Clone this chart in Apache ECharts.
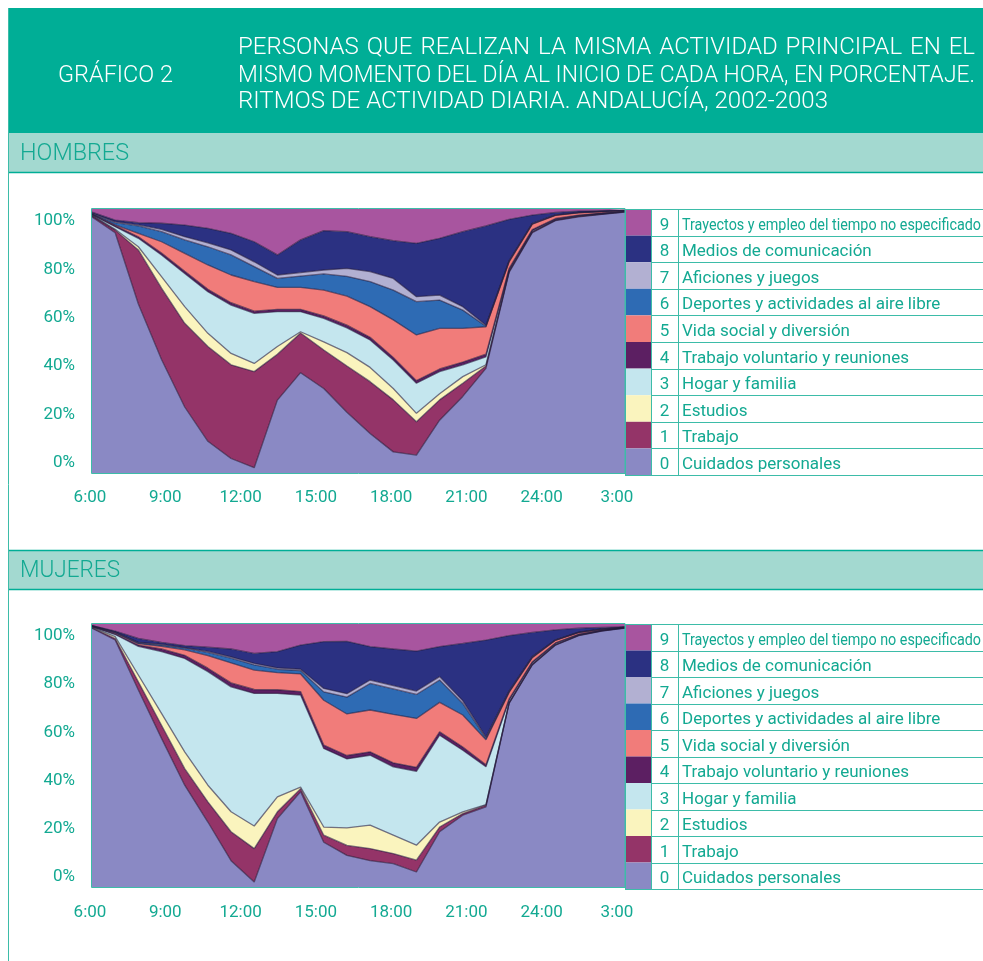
<!DOCTYPE html>
<html><head><meta charset="utf-8">
<script src="https://cdn.jsdelivr.net/npm/echarts@6/dist/echarts.min.js"></script>
<style>html,body{margin:0;padding:0;background:#fff}#c{width:983px;height:961px}</style>
</head><body><div id="c"></div>
<script>
// ---------- DATA ----------
const hours = ['6:00','7:00','8:00','9:00','10:00','11:00','12:00','13:00','14:00','15:00','16:00','17:00','18:00','19:00','20:00','21:00','22:00','23:00','0:00','1:00','2:00','3:00','4:00','5:00'];
const tickLabels = ['6:00','9:00','12:00','15:00','18:00','21:00','24:00','3:00'];
const categories = ['Cuidados personales','Trabajo','Estudios','Hogar y familia','Trabajo voluntario y reuniones','Vida social y diversión','Deportes y actividades al aire libre','Aficiones y juegos','Medios de comunicación','Trayectos y empleo del tiempo no especificado'];
const codes = ['0','1','2','3','4','5','6','7','8','9'];

// HOMBRES (% per hour)
const hCuidados   = [97, 91, 64, 43, 25, 12, 5.5, 2, 27.6, 38, 32, 23, 15, 8, 6.8, 20, 29, 39.6, 76, 91, 95.6, 97, 98, 98.8];
const hTrabajo    = [0.4, 1, 20.5, 27, 31.7, 35.9, 35.5, 36.4, 17.4, 15, 14.6, 17.5, 19.6, 19.7, 12.6, 7.7, 5, 0.9, 0.4, 0.3, 0.2, 0.2, 0.1, 0.1];
const hEstudios   = [0.2, 0.3, 1.2, 4.4, 6.3, 5, 4.3, 3.1, 2.9, 0.5, 3.1, 5.1, 5.4, 4.3, 3.2, 2.3, 2.5, 0.5, 0.1, 0.1, 0.1, 0.1, 0.1, 0.1];
const hHogar      = [0.2, 1, 3.2, 8.2, 12.6, 15.8, 18.3, 19, 13.2, 7.6, 8.9, 9.4, 10.4, 10.8, 11.4, 8.4, 4.5, 3, 0.5, 0.4, 0.2, 0.2, 0.1, 0.1];
const hVoluntario = [0.2, 0.4, 0.6, 0.7, 0.8, 0.9, 0.9, 0.8, 0.9, 0.9, 0.9, 1, 1, 1, 1, 1, 1, 1, 0.5, 0.4, 0.3, 0.2, 0.1, 0.1];
const hVidaSocial = [0.1, 0.3, 1.3, 4.3, 6.8, 9.2, 10.5, 11.2, 8.3, 8.3, 9.8, 11, 11.6, 14.2, 17.3, 15.4, 12.8, 10.4, 2.5, 2.1, 1.2, 0.8, 0.6, 0.2];
const hDeportes   = [0.1, 0.8, 2.8, 3.8, 5.1, 6.9, 7.6, 5.7, 3.4, 4.3, 6.1, 7.5, 9.5, 11.3, 12.6, 10.7, 6.9, 0.2, 0.2, 0.1, 0.1, 0.1, 0.05, 0.05];
const hAficiones  = [0.2, 0.4, 0.4, 0.9, 1.2, 1.5, 1.9, 1.8, 1.3, 1.3, 1.5, 3, 3.8, 4.4, 1.9, 1.9, 1.3, 0.4, 0.3, 0.2, 0.1, 0.1, 0.05, 0.05];
const hMedios     = [0.4, 0.6, 0.8, 2.3, 4.4, 5.5, 6.3, 7.6, 7.6, 12.4, 14.9, 13.9, 13.2, 14.3, 20.2, 21.5, 28.4, 37.6, 15.6, 3.1, 0.9, 0.5, 0.3, 0.1];
const hTrayectos  = [1.2, 4.2, 5.2, 5.4, 6.1, 7.3, 9.2, 12.4, 17.4, 11.7, 8.2, 8.6, 10.5, 12, 13, 11.1, 8.6, 6.4, 3.9, 2.3, 1.3, 0.8, 0.6, 0.4];

// MUJERES (% per hour)
const mCuidados   = [98.4, 93.9, 74.9, 56.5, 38.7, 24.7, 10, 1.9, 26, 36.2, 17, 12, 10, 8.9, 5.7, 21, 27.3, 30.5, 69.8, 84.4, 92, 95.6, 97.3, 98.4];
const mTrabajo    = [0.2, 0.6, 3.1, 5, 6.3, 7.7, 11, 12.7, 2.6, 1.2, 2.7, 3.8, 4.6, 3.8, 4.5, 1.8, 0.6, 0.6, 0.2, 0.2, 0.1, 0.1, 0.1, 0.1];
const mEstudios   = [0.2, 0.7, 2.6, 4.5, 6.4, 6.3, 7.6, 8.6, 5.7, 0.6, 3.1, 6.7, 8.9, 7, 5.7, 1.9, 0.7, 0.2, 0.1, 0.1, 0.1, 0.1, 0.1, 0.05];
const mHogar      = [0.2, 0.8, 10.9, 23.5, 35.5, 43.2, 47.5, 50.4, 39.3, 35, 29.9, 26.2, 26.6, 26, 28.1, 33, 23.4, 14.4, 0.9, 0.6, 0.4, 0.2, 0.1, 0.05];
const mVoluntario = [0.1, 0.3, 0.5, 1, 1.2, 1.3, 1.5, 1.5, 1.4, 1.3, 1.3, 1.3, 1.3, 1.5, 1.5, 1.3, 1.2, 0.8, 0.5, 0.3, 0.2, 0.1, 0.1, 0.05];
const mVidaSocial = [0.1, 0.3, 0.5, 1, 2.1, 4.8, 7.6, 7.4, 6.5, 6.7, 17, 15.8, 15.9, 18.4, 18.6, 11.2, 12.2, 9.5, 2.5, 1.6, 1, 0.6, 0.3, 0.1];
const mDeportes   = [0.1, 0.2, 0.3, 0.5, 0.6, 1.2, 1.8, 2, 1.3, 1.3, 3.2, 6.4, 10.1, 9.7, 9.1, 8.5, 4.4, 0.5, 0.3, 0.2, 0.1, 0.1, 0.1, 0.05];
const mAficiones  = [0.05, 0.2, 0.2, 0.3, 0.2, 0.4, 0.5, 0.5, 0.5, 0.5, 1.3, 1.3, 1.3, 1.3, 1.3, 1.3, 1, 0.5, 0.3, 0.2, 0.1, 0.1, 0.05, 0.05];
const mMedios     = [0.05, 0.3, 1.5, 0.7, 0.8, 1.6, 3, 3.8, 6.2, 9.2, 17.8, 19.9, 12.7, 13.9, 15.2, 11.4, 21.8, 36.9, 21, 9.2, 3.8, 1.5, 0.55, 0.05];
const mTrayectos  = [0.6, 2.7, 5.5, 7, 8.2, 8.8, 9.5, 11.2, 10.5, 8, 6.7, 6.6, 8.6, 9.5, 10.3, 8.6, 7.4, 6.1, 4.4, 3.2, 2.2, 1.6, 1.3, 1.1];

// ---------- STYLE ----------
const colors = ['#8A89C4','#943468','#FAF4BE','#C4E6EE','#5C1F62','#F17C7A','#2E6BB4','#B2B0D2','#2B3182','#A8559F'];
const TEAL = '#00AE96', TEXT_TEAL = '#13A992', BAND = '#A3D9D0', LINE = '#3DBCA8';
const hombres = [hCuidados,hTrabajo,hEstudios,hHogar,hVoluntario,hVidaSocial,hDeportes,hAficiones,hMedios,hTrayectos];
const mujeres = [mCuidados,mTrabajo,mEstudios,mHogar,mVoluntario,mVidaSocial,mDeportes,mAficiones,mMedios,mTrayectos];

const panels = [
  {name:'HOMBRES', data:hombres, bandY:133, top:209, h:264, lblTop:221, lblH:242, xMargin:26},
  {name:'MUJERES', data:mujeres, bandY:550, top:624, h:263, lblTop:636, lblH:241, xMargin:27}
];
const PL = 92, PW = 533;
const FONT = 'Roboto';
const labelFont = 'Roboto, "Noto Sans", sans-serif';

const ctx = document.createElement('canvas').getContext('2d');
function tw(t, s, wgt){ ctx.font = (wgt||400)+' '+s+'px '+FONT; return ctx.measureText(t).width; }
function scaledText(text, x, y, size, sx, fill, wgt, z){
  return {type:'text', x:x, y:y, scaleX:sx, z:z||5,
    style:{text:text, x:0, y:0, verticalAlign:'middle', fill:fill, fontSize:size, fontFamily:FONT, fontWeight:wgt||400}};
}

const grid = [], xAxis = [], yAxis = [], series = [], graphic = [];

panels.forEach((p, pi) => {
  const gD = grid.length;
  grid.push({left:PL, top:p.top, width:PW, height:p.h});
  xAxis.push({type:'category', gridIndex:gD, data:hours, boundaryGap:false, show:false});
  yAxis.push({type:'value', gridIndex:gD, min:0, max:100, show:false});
  const gL = grid.length;
  grid.push({left:90, top:p.lblTop, width:527, height:p.lblH});
  xAxis.push({type:'category', gridIndex:gL, data:tickLabels, boundaryGap:false,
    axisLine:{show:false}, axisTick:{show:false}, splitLine:{show:false},
    axisLabel:{interval:0, margin:p.xMargin, color:TEXT_TEAL, fontSize:17, fontFamily:labelFont}});
  yAxis.push({type:'value', gridIndex:gL, min:0, max:100, interval:20,
    axisLine:{show:false}, axisTick:{show:false}, splitLine:{show:false},
    axisLabel:{formatter:'{value}%', margin:15, color:TEXT_TEAL, fontSize:17, fontFamily:labelFont}});
  p.data.forEach((arr, k) => {
    series.push({type:'line', name:categories[k], xAxisIndex:gD, yAxisIndex:gD, stack:'s'+pi,
      data:arr, symbol:'none', smooth:false, silent:true,
      lineStyle:{width:k===9?0:1.3, color:'rgba(35,25,60,0.6)'},
      areaStyle:{color:colors[k], opacity:1}, itemStyle:{color:colors[k]}});
  });

  // section band
  graphic.push({type:'rect', shape:{x:8, y:p.bandY, width:975, height:39}, style:{fill:BAND}, z:1});
  graphic.push({type:'line', shape:{x1:8, y1:p.bandY+39.5, x2:983, y2:p.bandY+39.5}, style:{stroke:TEAL, lineWidth:1.5}, z:2});
  if (pi===1) graphic.push({type:'line', shape:{x1:8, y1:p.bandY+0.5, x2:983, y2:p.bandY+0.5}, style:{stroke:TEAL, lineWidth:1.5}, z:2});
  const bw = tw(p.name, 23, 300);
  graphic.push(scaledText(p.name, 20, p.bandY+21, 23, (pi===0?109:100)/bw, TEXT_TEAL, 300, 3));

  // plot border
  graphic.push({type:'rect', shape:{x:91.5, y:p.top-0.5, width:PW+0.5, height:p.h+1}, style:{fill:'none', stroke:LINE, lineWidth:1}, z:50});

  // legend table
  const RH = (p.h+2)/10;
  for (let r=0; r<10; r++){
    const k = 9-r;
    const y0 = p.top + r*RH;
    graphic.push({type:'rect', shape:{x:626, y:y0, width:25.5, height:RH}, style:{fill:colors[k]}, z:10});
    graphic.push({type:'text', style:{text:codes[k], x:664.5, y:y0+RH/2+3, align:'center', verticalAlign:'middle', fill:TEXT_TEAL, fontSize:17, fontFamily:labelFont}, z:12});
    if (k === 9) {
      const w9 = tw(categories[k], 17);
      graphic.push(scaledText(categories[k], 682, y0+RH/2+3, 17, 299/w9, TEXT_TEAL, 400, 12));
    } else {
      graphic.push({type:'text', style:{text:categories[k], x:682, y:y0+RH/2+3, verticalAlign:'middle', fill:TEXT_TEAL, fontSize:17, fontFamily:labelFont}, z:12});
    }
  }
  for (let r=0; r<=10; r++){
    const y = Math.round(p.top + r*RH)+0.5;
    graphic.push({type:'line', shape:{x1:(r===0||r===10)?625:651, y1:y, x2:983, y2:y}, style:{stroke:LINE, lineWidth:1}, z:11});
  }
  [651.5, 678.5].forEach(x => graphic.push({type:'line', shape:{x1:x, y1:p.top, x2:x, y2:p.top+10*RH}, style:{stroke:LINE, lineWidth:1}, z:11}));
  graphic.push({type:'line', shape:{x1:625.5, y1:p.top, x2:625.5, y2:p.top+10*RH}, style:{stroke:LINE, lineWidth:1}, z:11});
});

// header
graphic.push({type:'rect', shape:{x:8, y:8, width:975, height:125}, style:{fill:TEAL}, z:1});
graphic.push({type:'line', shape:{x1:8.5, y1:8, x2:8.5, y2:961}, style:{stroke:LINE, lineWidth:1}, z:2});
const titleLines = ['PERSONAS QUE REALIZAN LA MISMA ACTIVIDAD PRINCIPAL EN EL','MISMO MOMENTO DEL DÍA AL INICIO DE CADA HORA, EN PORCENTAJE.','RITMOS DE ACTIVIDAD DIARIA. ANDALUCÍA, 2002-2003'];
const TX = 238, FS = 24, TWGT = 300;
const lineW = [737, 737, 590];
const sx2 = lineW[1] / tw(titleLines[1], FS, TWGT);
const sx3 = lineW[2] / tw(titleLines[2], FS, TWGT);
const lineY = [48, 76, 102];
titleLines.forEach((line, li) => {
  if (li === 0) {
    const words = line.split(' ');
    const total = words.reduce((a,w)=>a+tw(w,FS,TWGT)*sx3,0);
    const gap = (lineW[0] - total)/(words.length-1);
    let x = TX;
    words.forEach(w => {
      graphic.push(scaledText(w, x, lineY[li], FS, sx3, '#fff', TWGT, 5));
      x += tw(w,FS,TWGT)*sx3 + gap;
    });
  } else {
    graphic.push(scaledText(line, TX, lineY[li], FS, li===1?sx2:sx3, '#fff', TWGT, 5));
  }
});
graphic.push(scaledText('GRÁFICO 2', 58, 76, FS, 115/tw('GRÁFICO 2', FS, TWGT), '#fff', TWGT, 5));

const chart = echarts.init(document.getElementById('c'), null, {renderer:'canvas'});
chart.setOption({animation:false, backgroundColor:'#fff', grid, xAxis, yAxis, series, graphic});
</script></body></html>
